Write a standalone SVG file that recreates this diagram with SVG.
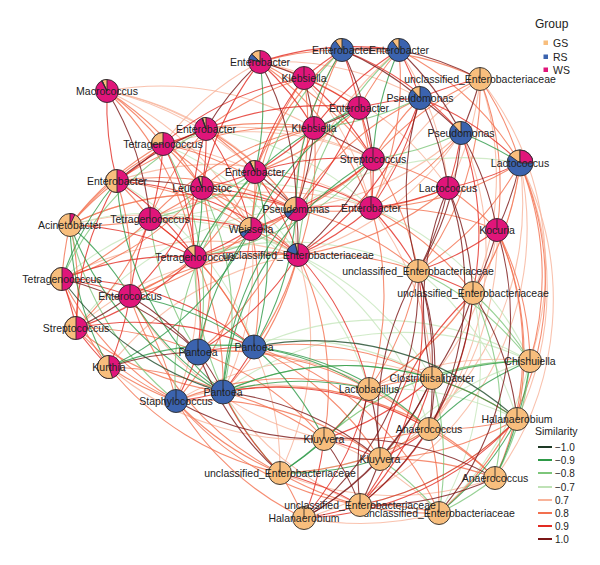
<svg xmlns="http://www.w3.org/2000/svg" width="600" height="565" viewBox="0 0 600 565">
<style>
.e path{fill:none;stroke-width:1.1;stroke-opacity:.8}
.r10{stroke:#7B1616}.r9{stroke:#E22B22}.r8{stroke:#F2704F}.r7{stroke:#F8B39A}
.g10{stroke:#1E4A2A}.g9{stroke:#2E9A48}.g8{stroke:#7DC67A}.g7{stroke:#C5E6BC}
.nd circle,.nd path{stroke:#2b2b2b;stroke-width:.9}
.gs{fill:#F8BE7D}.rs{fill:#3B63AE}.ws{fill:#E0157A}
.nd text{font-family:"Liberation Sans",Arial,sans-serif;font-size:10.5px;fill:#222;text-anchor:middle}
.lg text{font-family:"Liberation Sans",Arial,sans-serif;fill:#222}
.lg line{stroke-width:2}
</style>
<rect width="600" height="565" fill="#fff"/>
<g id="edges" class="e">
<g class="r7">
<path d="M107 91A300 300 0 0 1 206 129"/><path d="M107 91A300 300 0 0 1 255 172"/><path d="M107 91A300 300 0 0 1 251 229"/><path d="M260 62A300 300 0 0 0 163 144"/><path d="M260 62A300 300 0 0 1 420 98"/><path d="M399 50A300 300 0 0 1 448 188"/><path d="M304 78A300 300 0 0 1 371 208"/><path d="M480 79A300 300 0 0 1 448 188"/><path d="M480 79A300 300 0 0 1 473 293"/><path d="M461 133A300 300 0 0 1 296 209"/><path d="M461 133A300 300 0 0 1 429 429"/><path d="M163 144A300 300 0 0 1 255 172"/><path d="M520 163A300 300 0 0 1 517 419"/><path d="M520 163A300 300 0 0 1 495 478"/><path d="M251 229A300 300 0 0 1 223 392"/><path d="M371 208A300 300 0 0 1 432 378"/><path d="M195 257A300 300 0 0 1 176 401"/><path d="M298 255A300 300 0 0 1 280 473"/><path d="M130 296A300 300 0 0 0 324 439"/><path d="M369 389A300 300 0 0 1 530 361"/><path d="M324 439A300 300 0 0 1 439 513"/><path d="M439 513A300 300 0 0 1 304 518"/><path d="M107 91A300 300 0 0 1 296 209"/><path d="M107 91A300 300 0 0 1 314 128"/><path d="M70 225A300 300 0 0 1 296 209"/><path d="M70 225A300 300 0 0 1 298 255"/><path d="M62 279A300 300 0 0 1 298 255"/><path d="M76 328A300 300 0 0 1 298 255"/><path d="M109 367A300 300 0 0 1 298 255"/><path d="M117 181A300 300 0 0 1 371 208"/><path d="M150 219A300 300 0 0 1 371 208"/><path d="M163 144A300 300 0 0 1 373 159"/><path d="M206 129A300 300 0 0 1 373 159"/><path d="M260 62A300 300 0 0 1 448 188"/><path d="M399 50A300 300 0 0 0 296 209"/><path d="M342 50A300 300 0 0 0 298 255"/><path d="M480 79A300 300 0 0 0 371 208"/><path d="M461 133A300 300 0 0 1 298 255"/><path d="M520 163A300 300 0 0 1 369 389"/><path d="M520 163A300 300 0 0 1 380 459"/><path d="M497 230A300 300 0 0 1 432 378"/><path d="M497 230A300 300 0 0 1 429 429"/><path d="M176 401A300 300 0 0 1 429 429"/><path d="M176 401A300 300 0 0 1 432 378"/><path d="M198 352A300 300 0 0 1 429 429"/><path d="M109 367A300 300 0 0 0 324 439"/><path d="M254 347A300 300 0 0 1 280 473"/><path d="M223 392A300 300 0 0 0 360 505"/><path d="M280 473A300 300 0 0 0 495 478"/><path d="M520 163A300 300 0 0 1 304 518"/><path d="M480 79A300 300 0 0 1 530 361"/>
</g>
<g class="g7">
<path d="M520 163A300 300 0 0 0 296 209"/><path d="M530 361A300 300 0 0 1 439 513"/><path d="M70 225A300 300 0 0 1 251 229"/><path d="M62 279A300 300 0 0 1 296 209"/><path d="M76 328A300 300 0 0 1 296 209"/><path d="M150 219A300 300 0 0 1 298 255"/><path d="M163 144A300 300 0 0 1 298 255"/><path d="M117 181A300 300 0 0 1 254 347"/><path d="M195 257A300 300 0 0 1 418 271"/><path d="M298 255A300 300 0 0 1 432 378"/><path d="M251 229A300 300 0 0 1 369 389"/><path d="M254 347A300 300 0 0 1 530 361"/><path d="M198 352A300 300 0 0 1 432 378"/><path d="M369 389A300 300 0 0 1 517 419"/><path d="M324 439A300 300 0 0 1 530 361"/><path d="M380 459A300 300 0 0 1 530 361"/><path d="M298 255A300 300 0 0 1 429 429"/><path d="M371 208A300 300 0 0 1 530 361"/><path d="M473 293A300 300 0 0 1 439 513"/><path d="M418 271A300 300 0 0 1 517 419"/><path d="M202 188A300 300 0 0 1 371 208"/><path d="M206 129A300 300 0 0 1 371 208"/><path d="M223 392A300 300 0 0 1 530 361"/><path d="M360 505A300 300 0 0 0 517 419"/><path d="M280 473A300 300 0 0 0 429 429"/>
</g>
<g class="r8">
<path d="M107 91A300 300 0 0 1 163 144"/><path d="M107 91A300 300 0 0 1 202 188"/><path d="M107 91A300 300 0 0 1 195 257"/><path d="M260 62A300 300 0 0 1 342 50"/><path d="M260 62A300 300 0 0 1 359 108"/><path d="M260 62A300 300 0 0 1 373 159"/><path d="M260 62A300 300 0 0 1 371 208"/><path d="M342 50A300 300 0 0 1 480 79"/><path d="M342 50A300 300 0 0 0 314 128"/><path d="M342 50A300 300 0 0 0 255 172"/><path d="M399 50A300 300 0 0 0 359 108"/><path d="M399 50A300 300 0 0 1 371 208"/><path d="M399 50A300 300 0 0 1 520 163"/><path d="M304 78A300 300 0 0 0 206 129"/><path d="M304 78A300 300 0 0 1 296 209"/><path d="M304 78A300 300 0 0 0 251 229"/><path d="M480 79A300 300 0 0 1 520 163"/><path d="M480 79A300 300 0 0 1 497 230"/><path d="M480 79A300 300 0 0 1 418 271"/><path d="M480 79A300 300 0 0 0 373 159"/><path d="M420 98A300 300 0 0 0 373 159"/><path d="M420 98A300 300 0 0 0 296 209"/><path d="M359 108A300 300 0 0 1 255 172"/><path d="M359 108A300 300 0 0 1 371 208"/><path d="M314 128A300 300 0 0 0 202 188"/><path d="M314 128A300 300 0 0 0 206 129"/><path d="M314 128A300 300 0 0 1 298 255"/><path d="M314 128A300 300 0 0 0 150 219"/><path d="M314 128A300 300 0 0 0 117 181"/><path d="M206 129A300 300 0 0 1 255 172"/><path d="M206 129A300 300 0 0 0 150 219"/><path d="M206 129A300 300 0 0 1 296 209"/><path d="M206 129A300 300 0 0 0 70 225"/><path d="M461 133A300 300 0 0 1 371 208"/><path d="M163 144A300 300 0 0 1 202 188"/><path d="M163 144A300 300 0 0 1 251 229"/><path d="M163 144A300 300 0 0 1 296 209"/><path d="M163 144A300 300 0 0 0 70 225"/><path d="M373 159A300 300 0 0 1 448 188"/><path d="M373 159A300 300 0 0 1 251 229"/><path d="M373 159A300 300 0 0 1 418 271"/><path d="M520 163A300 300 0 0 1 418 271"/><path d="M520 163A300 300 0 0 1 473 293"/><path d="M520 163A300 300 0 0 1 530 361"/><path d="M520 163A300 300 0 0 1 371 208"/><path d="M117 181A300 300 0 0 1 150 219"/><path d="M117 181A300 300 0 0 0 70 225"/><path d="M117 181A300 300 0 0 1 130 296"/><path d="M117 181A300 300 0 0 1 251 229"/><path d="M117 181A300 300 0 0 1 296 209"/><path d="M255 172A300 300 0 0 1 251 229"/><path d="M255 172A300 300 0 0 1 195 257"/><path d="M202 188A300 300 0 0 1 150 219"/><path d="M202 188A300 300 0 0 1 251 229"/><path d="M202 188A300 300 0 0 1 62 279"/><path d="M202 188A300 300 0 0 1 198 352"/><path d="M202 188A300 300 0 0 1 298 255"/><path d="M448 188A300 300 0 0 1 497 230"/><path d="M448 188A300 300 0 0 1 296 209"/><path d="M448 188A300 300 0 0 1 298 255"/><path d="M150 219A300 300 0 0 1 70 225"/><path d="M150 219A300 300 0 0 1 62 279"/><path d="M150 219A300 300 0 0 1 76 328"/><path d="M150 219A300 300 0 0 1 254 347"/><path d="M296 209A300 300 0 0 1 195 257"/><path d="M296 209A300 300 0 0 1 418 271"/><path d="M296 209A300 300 0 0 1 198 352"/><path d="M296 209A300 300 0 0 0 70 225"/><path d="M251 229A300 300 0 0 1 298 255"/><path d="M251 229A300 300 0 0 1 254 347"/><path d="M251 229A300 300 0 0 1 176 401"/><path d="M251 229A300 300 0 0 1 130 296"/><path d="M371 208A300 300 0 0 1 473 293"/><path d="M371 208A300 300 0 0 1 369 389"/><path d="M371 208A300 300 0 0 1 497 230"/><path d="M497 230A300 300 0 0 1 530 361"/><path d="M497 230A300 300 0 0 1 517 419"/><path d="M497 230A300 300 0 0 1 495 478"/><path d="M70 225A300 300 0 0 0 62 279"/><path d="M70 225A300 300 0 0 1 76 328"/><path d="M195 257A300 300 0 0 1 130 296"/><path d="M195 257A300 300 0 0 1 254 347"/><path d="M195 257A300 300 0 0 1 223 392"/><path d="M298 255A300 300 0 0 1 418 271"/><path d="M298 255A300 300 0 0 1 254 347"/><path d="M298 255A300 300 0 0 1 223 392"/><path d="M298 255A300 300 0 0 1 324 439"/><path d="M298 255A300 300 0 0 0 130 296"/><path d="M418 271A300 300 0 0 1 369 389"/><path d="M62 279A300 300 0 0 0 109 367"/><path d="M62 279A300 300 0 0 0 176 401"/><path d="M473 293A300 300 0 0 1 369 389"/><path d="M130 296A300 300 0 0 1 176 401"/><path d="M130 296A300 300 0 0 0 280 473"/><path d="M76 328A300 300 0 0 1 198 352"/><path d="M76 328A300 300 0 0 0 223 392"/><path d="M76 328A300 300 0 0 0 176 401"/><path d="M109 367A300 300 0 0 1 223 392"/><path d="M109 367A300 300 0 0 0 176 401"/><path d="M109 367A300 300 0 0 0 280 473"/><path d="M198 352A300 300 0 0 1 324 439"/><path d="M198 352A300 300 0 0 1 369 389"/><path d="M254 347A300 300 0 0 1 380 459"/><path d="M254 347A300 300 0 0 1 432 378"/><path d="M254 347A300 300 0 0 1 439 513"/><path d="M223 392A300 300 0 0 1 324 439"/><path d="M223 392A300 300 0 0 1 495 478"/><path d="M176 401A300 300 0 0 0 280 473"/><path d="M176 401A300 300 0 0 1 380 459"/><path d="M176 401A300 300 0 0 0 360 505"/><path d="M176 401A300 300 0 0 0 304 518"/><path d="M176 401A300 300 0 0 1 369 389"/><path d="M369 389A300 300 0 0 1 432 378"/><path d="M369 389A300 300 0 0 1 429 429"/><path d="M432 378A300 300 0 0 1 517 419"/><path d="M517 419A300 300 0 0 1 429 429"/><path d="M517 419A300 300 0 0 1 380 459"/><path d="M429 429A300 300 0 0 1 324 439"/><path d="M429 429A300 300 0 0 1 495 478"/><path d="M429 429A300 300 0 0 1 439 513"/><path d="M429 429A300 300 0 0 1 280 473"/><path d="M380 459A300 300 0 0 1 495 478"/><path d="M280 473A300 300 0 0 1 304 518"/><path d="M280 473A300 300 0 0 0 439 513"/><path d="M360 505A300 300 0 0 1 439 513"/><path d="M520 163A300 300 0 0 1 439 513"/>
</g>
<g class="g8">
<path d="M342 50A300 300 0 0 0 251 229"/><path d="M399 50A300 300 0 0 0 298 255"/><path d="M420 98A300 300 0 0 1 314 128"/><path d="M206 129A300 300 0 0 0 62 279"/><path d="M461 133A300 300 0 0 1 373 159"/><path d="M255 172A300 300 0 0 1 150 219"/><path d="M255 172A300 300 0 0 0 176 401"/><path d="M150 219A300 300 0 0 0 198 352"/><path d="M70 225A300 300 0 0 0 176 401"/><path d="M195 257A300 300 0 0 0 280 473"/><path d="M195 257A300 300 0 0 0 373 159"/><path d="M473 293A300 300 0 0 1 530 361"/><path d="M473 293A300 300 0 0 1 495 478"/><path d="M530 361A300 300 0 0 1 495 478"/><path d="M530 361A300 300 0 0 0 324 439"/><path d="M223 392A300 300 0 0 1 432 378"/><path d="M432 378A300 300 0 0 1 439 513"/><path d="M380 459A300 300 0 0 1 439 513"/><path d="M495 478A300 300 0 0 1 439 513"/><path d="M418 271A300 300 0 0 1 530 361"/><path d="M163 144A300 300 0 0 1 198 352"/><path d="M202 188A300 300 0 0 1 223 392"/>
</g>
<g class="r9">
<path d="M107 91A300 300 0 0 0 117 181"/><path d="M260 62A300 300 0 0 1 399 50"/><path d="M260 62A300 300 0 0 1 314 128"/><path d="M260 62A300 300 0 0 0 202 188"/><path d="M342 50A300 300 0 0 0 304 78"/><path d="M342 50A300 300 0 0 1 359 108"/><path d="M342 50A300 300 0 0 1 461 133"/><path d="M399 50A300 300 0 0 1 420 98"/><path d="M399 50A300 300 0 0 0 314 128"/><path d="M304 78A300 300 0 0 1 359 108"/><path d="M304 78A300 300 0 0 0 255 172"/><path d="M304 78A300 300 0 0 1 373 159"/><path d="M304 78A300 300 0 0 0 163 144"/><path d="M480 79A300 300 0 0 0 420 98"/><path d="M420 98A300 300 0 0 0 359 108"/><path d="M420 98A300 300 0 0 1 371 208"/><path d="M420 98A300 300 0 0 1 298 255"/><path d="M420 98A300 300 0 0 1 520 163"/><path d="M359 108A300 300 0 0 1 373 159"/><path d="M359 108A300 300 0 0 1 296 209"/><path d="M359 108A300 300 0 0 0 206 129"/><path d="M314 128A300 300 0 0 1 255 172"/><path d="M314 128A300 300 0 0 1 251 229"/><path d="M206 129A300 300 0 0 1 163 144"/><path d="M206 129A300 300 0 0 1 202 188"/><path d="M206 129A300 300 0 0 1 251 229"/><path d="M206 129A300 300 0 0 0 195 257"/><path d="M461 133A300 300 0 0 1 448 188"/><path d="M461 133A300 300 0 0 1 473 293"/><path d="M163 144A300 300 0 0 1 117 181"/><path d="M163 144A300 300 0 0 1 150 219"/><path d="M163 144A300 300 0 0 1 195 257"/><path d="M373 159A300 300 0 0 1 371 208"/><path d="M373 159A300 300 0 0 1 296 209"/><path d="M373 159A300 300 0 0 0 255 172"/><path d="M520 163A300 300 0 0 1 448 188"/><path d="M117 181A300 300 0 0 1 195 257"/><path d="M117 181A300 300 0 0 0 76 328"/><path d="M117 181A300 300 0 0 1 298 255"/><path d="M255 172A300 300 0 0 1 202 188"/><path d="M255 172A300 300 0 0 1 371 208"/><path d="M255 172A300 300 0 0 1 298 255"/><path d="M202 188A300 300 0 0 1 296 209"/><path d="M202 188A300 300 0 0 1 130 296"/><path d="M448 188A300 300 0 0 1 371 208"/><path d="M150 219A300 300 0 0 1 251 229"/><path d="M150 219A300 300 0 0 1 195 257"/><path d="M150 219A300 300 0 0 0 130 296"/><path d="M296 209A300 300 0 0 1 251 229"/><path d="M296 209A300 300 0 0 1 371 208"/><path d="M251 229A300 300 0 0 1 195 257"/><path d="M371 208A300 300 0 0 1 298 255"/><path d="M371 208A300 300 0 0 1 418 271"/><path d="M497 230A300 300 0 0 1 418 271"/><path d="M70 225A300 300 0 0 1 195 257"/><path d="M195 257A300 300 0 0 1 298 255"/><path d="M195 257A300 300 0 0 0 62 279"/><path d="M195 257A300 300 0 0 1 76 328"/><path d="M195 257A300 300 0 0 1 198 352"/><path d="M298 255A300 300 0 0 1 198 352"/><path d="M298 255A300 300 0 0 1 369 389"/><path d="M418 271A300 300 0 0 1 473 293"/><path d="M418 271A300 300 0 0 1 360 505"/><path d="M62 279A300 300 0 0 1 130 296"/><path d="M62 279A300 300 0 0 1 76 328"/><path d="M62 279A300 300 0 0 1 254 347"/><path d="M473 293A300 300 0 0 1 429 429"/><path d="M473 293A300 300 0 0 0 380 459"/><path d="M130 296A300 300 0 0 1 109 367"/><path d="M76 328A300 300 0 0 0 109 367"/><path d="M76 328A300 300 0 0 1 254 347"/><path d="M198 352A300 300 0 0 1 254 347"/><path d="M198 352A300 300 0 0 1 176 401"/><path d="M254 347A300 300 0 0 1 223 392"/><path d="M223 392A300 300 0 0 1 176 401"/><path d="M223 392A300 300 0 0 1 429 429"/><path d="M223 392A300 300 0 0 0 280 473"/><path d="M369 389A300 300 0 0 1 324 439"/><path d="M369 389A300 300 0 0 1 304 518"/><path d="M432 378A300 300 0 0 1 324 439"/><path d="M432 378A300 300 0 0 1 360 505"/><path d="M517 419A300 300 0 0 1 360 505"/><path d="M517 419A300 300 0 0 1 304 518"/><path d="M429 429A300 300 0 0 1 380 459"/><path d="M429 429A300 300 0 0 1 360 505"/><path d="M324 439A300 300 0 0 1 380 459"/><path d="M324 439A300 300 0 0 1 304 518"/><path d="M280 473A300 300 0 0 1 360 505"/><path d="M360 505A300 300 0 0 1 304 518"/>
</g>
<g class="g9">
<path d="M260 62A300 300 0 0 1 255 172"/><path d="M342 50A300 300 0 0 0 296 209"/><path d="M399 50A300 300 0 0 0 373 159"/><path d="M359 108A300 300 0 0 0 251 229"/><path d="M359 108A300 300 0 0 0 195 257"/><path d="M461 133A300 300 0 0 1 520 163"/><path d="M373 159A300 300 0 0 0 223 392"/><path d="M117 181A300 300 0 0 0 62 279"/><path d="M255 172A300 300 0 0 1 254 347"/><path d="M202 188A300 300 0 0 1 195 257"/><path d="M296 209A300 300 0 0 1 254 347"/><path d="M296 209A300 300 0 0 0 223 392"/><path d="M251 229A300 300 0 0 0 198 352"/><path d="M70 225A300 300 0 0 1 130 296"/><path d="M70 225A300 300 0 0 0 109 367"/><path d="M70 225A300 300 0 0 0 223 392"/><path d="M130 296A300 300 0 0 1 254 347"/><path d="M130 296A300 300 0 0 0 223 392"/><path d="M254 347A300 300 0 0 1 369 389"/><path d="M254 347A300 300 0 0 1 324 439"/><path d="M254 347A300 300 0 0 1 429 429"/><path d="M530 361A300 300 0 0 0 432 378"/><path d="M530 361A300 300 0 0 1 517 419"/><path d="M530 361A300 300 0 0 0 429 429"/><path d="M223 392A300 300 0 0 1 369 389"/><path d="M223 392A300 300 0 0 1 517 419"/><path d="M369 389A300 300 0 0 1 280 473"/><path d="M517 419A300 300 0 0 1 495 478"/><path d="M517 419A300 300 0 0 1 439 513"/><path d="M324 439A300 300 0 0 1 280 473"/><path d="M380 459A300 300 0 0 1 280 473"/><path d="M109 367A300 300 0 0 1 254 347"/><path d="M117 181A300 300 0 0 0 223 392"/><path d="M109 367A300 300 0 0 0 251 229"/>
</g>
<g class="r10">
<path d="M107 91A300 300 0 0 1 150 219"/><path d="M260 62A300 300 0 0 1 304 78"/><path d="M260 62A300 300 0 0 0 206 129"/><path d="M260 62A300 300 0 0 1 296 209"/><path d="M342 50A300 300 0 0 1 399 50"/><path d="M342 50A300 300 0 0 1 420 98"/><path d="M342 50A300 300 0 0 1 373 159"/><path d="M399 50A300 300 0 0 1 480 79"/><path d="M399 50A300 300 0 0 1 461 133"/><path d="M304 78A300 300 0 0 1 314 128"/><path d="M480 79A300 300 0 0 1 461 133"/><path d="M420 98A300 300 0 0 1 461 133"/><path d="M420 98A300 300 0 0 1 448 188"/><path d="M420 98A300 300 0 0 0 418 271"/><path d="M359 108A300 300 0 0 1 314 128"/><path d="M314 128A300 300 0 0 1 373 159"/><path d="M314 128A300 300 0 0 1 296 209"/><path d="M206 129A300 300 0 0 0 117 181"/><path d="M461 133A300 300 0 0 1 497 230"/><path d="M461 133A300 300 0 0 1 418 271"/><path d="M373 159A300 300 0 0 1 298 255"/><path d="M520 163A300 300 0 0 1 497 230"/><path d="M117 181A300 300 0 0 1 202 188"/><path d="M255 172A300 300 0 0 1 296 209"/><path d="M448 188A300 300 0 0 1 418 271"/><path d="M448 188A300 300 0 0 1 473 293"/><path d="M448 188A300 300 0 0 0 432 378"/><path d="M448 188A300 300 0 0 1 429 429"/><path d="M296 209A300 300 0 0 1 298 255"/><path d="M497 230A300 300 0 0 1 473 293"/><path d="M497 230A300 300 0 0 1 439 513"/><path d="M418 271A300 300 0 0 1 432 378"/><path d="M418 271A300 300 0 0 1 429 429"/><path d="M418 271A300 300 0 0 0 380 459"/><path d="M418 271A300 300 0 0 1 304 518"/><path d="M62 279A300 300 0 0 1 198 352"/><path d="M473 293A300 300 0 0 1 432 378"/><path d="M473 293A300 300 0 0 1 517 419"/><path d="M473 293A300 300 0 0 1 360 505"/><path d="M130 296A300 300 0 0 1 76 328"/><path d="M130 296A300 300 0 0 1 198 352"/><path d="M109 367A300 300 0 0 1 198 352"/><path d="M198 352A300 300 0 0 1 223 392"/><path d="M198 352A300 300 0 0 0 280 473"/><path d="M223 392A300 300 0 0 1 380 459"/><path d="M176 401A300 300 0 0 0 324 439"/><path d="M369 389A300 300 0 0 1 380 459"/><path d="M369 389A300 300 0 0 0 360 505"/><path d="M432 378A300 300 0 0 1 429 429"/><path d="M432 378A300 300 0 0 1 380 459"/><path d="M432 378A300 300 0 0 1 304 518"/><path d="M324 439A300 300 0 0 1 360 505"/><path d="M324 439A300 300 0 0 1 495 478"/><path d="M380 459A300 300 0 0 1 360 505"/><path d="M380 459A300 300 0 0 1 304 518"/><path d="M495 478A300 300 0 0 1 360 505"/>
</g>
<g class="g10">
<path d="M62 279A300 300 0 0 0 223 392"/><path d="M254 347A300 300 0 0 1 517 419"/>
</g>
</g>
<g id="nodes" class="nd">
<g id="n-macrococcus" transform="translate(107,91)"><circle r="11.5" class="ws"/><path class="gs" d="M0 0V-11.5A11.5 11.5 0 0 0 -4.9 -10.41Z"/><path class="rs" d="M0 0L-4.9 -10.41A11.5 11.5 0 0 0 -5.54 -10.08Z"/><text y="4">Macrococcus</text></g>
<g id="n-enterobacter-1" transform="translate(260,62)"><circle r="11.5" class="ws"/><path class="gs" d="M0 0V-11.5A11.5 11.5 0 0 0 -8.38 -7.87Z"/><path class="rs" d="M0 0L-8.38 -7.87A11.5 11.5 0 0 0 -11.13 -2.86Z"/><text y="4">Enterobacter</text></g>
<g id="n-enterobacter-2" transform="translate(342,50)"><circle r="11.5" class="rs"/><path class="gs" d="M0 0V-11.5A11.5 11.5 0 0 0 -6.76 -9.3Z"/><text y="4">Enterobacter</text></g>
<g id="n-enterobacter-3" transform="translate(399,50)"><circle r="11.5" class="rs"/><path class="gs" d="M0 0V-11.5A11.5 11.5 0 0 0 -6.76 -9.3Z"/><text y="4">Enterobacter</text></g>
<g id="n-klebsiella-1" transform="translate(304,78)"><circle r="11.5" class="ws"/><path d="M0 0V-11.5"/><text y="4">Klebsiella</text></g>
<g id="n-unclassified-1" transform="translate(480,79)"><circle r="11.5" class="gs"/><path d="M0 0V-11.5"/><text y="4">unclassified_Enterobacteriaceae</text></g>
<g id="n-pseudomonas-1" transform="translate(420,98)"><circle r="11.5" class="rs"/><path class="gs" d="M0 0V-11.5A11.5 11.5 0 0 0 -7.87 -8.38Z"/><text y="4">Pseudomonas</text></g>
<g id="n-enterobacter-4" transform="translate(359,108)"><circle r="11.5" class="ws"/><path d="M0 0V-11.5"/><text y="4">Enterobacter</text></g>
<g id="n-klebsiella-2" transform="translate(314,128)"><circle r="11.5" class="ws"/><path d="M0 0V-11.5"/><text y="4">Klebsiella</text></g>
<g id="n-enterobacter-5" transform="translate(206,129)"><circle r="11.5" class="ws"/><path class="gs" d="M0 0V-11.5A11.5 11.5 0 0 0 -3.55 -10.94Z"/><path class="rs" d="M0 0L-3.55 -10.94A11.5 11.5 0 0 0 -4.23 -10.69Z"/><text y="4">Enterobacter</text></g>
<g id="n-pseudomonas-2" transform="translate(461,133)"><circle r="11.5" class="rs"/><path class="gs" d="M0 0V-11.5A11.5 11.5 0 0 0 -7.87 -8.38Z"/><text y="4">Pseudomonas</text></g>
<g id="n-tetragenococcus-1" transform="translate(163,144)"><circle r="11.5" class="ws"/><path class="gs" d="M0 0V-11.5A11.5 11.5 0 0 0 -11.5 0Z"/><text y="4">Tetragenococcus</text></g>
<g id="n-streptococcus-1" transform="translate(373,159)"><circle r="11.5" class="ws"/><path d="M0 0V-11.5"/><text y="4">Streptococcus</text></g>
<g id="n-lactococcus-1" transform="translate(520,163)"><circle r="13" class="rs"/><path class="gs" d="M0 0V-13A13 13 0 0 0 -10.52 -7.64Z"/><path class="ws" d="M0 0H13A13 13 0 0 0 0 -13Z"/><text y="4">Lactococcus</text></g>
<g id="n-enterobacter-6" transform="translate(117,181)"><circle r="11.5" class="ws"/><path class="gs" d="M0 0V-11.5A11.5 11.5 0 0 0 0 11.5Z"/><text y="4">Enterobacter</text></g>
<g id="n-enterobacter-7" transform="translate(255,172)"><circle r="11.5" class="ws"/><path class="gs" d="M0 0V-11.5A11.5 11.5 0 0 0 -4.9 -10.41Z"/><path class="rs" d="M0 0L-4.9 -10.41A11.5 11.5 0 0 0 -5.54 -10.08Z"/><text y="4">Enterobacter</text></g>
<g id="n-leuconostoc" transform="translate(202,188)"><circle r="11.5" class="ws"/><path class="gs" d="M0 0V-11.5A11.5 11.5 0 0 0 -3.55 -10.94Z"/><path class="rs" d="M0 0L-3.55 -10.94A11.5 11.5 0 0 0 -4.23 -10.69Z"/><text y="4">Leuconostoc</text></g>
<g id="n-lactococcus-2" transform="translate(448,188)"><circle r="11.5" class="ws"/><path d="M0 0V-11.5"/><text y="4">Lactococcus</text></g>
<g id="n-tetragenococcus-2" transform="translate(150,219)"><circle r="11.5" class="ws"/><path d="M0 0V-11.5"/><text y="4">Tetragenococcus</text></g>
<g id="n-weissella" transform="translate(251,229)"><circle r="11.5" class="ws"/><path class="gs" d="M0 0V-11.5A11.5 11.5 0 0 0 -10.94 3.55Z"/><path class="rs" d="M0 0L-10.94 3.55A11.5 11.5 0 0 0 -7.87 8.38Z"/><text y="4">Weissella</text></g>
<g id="n-pseudomonas-3" transform="translate(296,209)"><circle r="12" class="ws"/><path class="gs" d="M0 0V-12A12 12 0 0 0 -11.41 3.71Z"/><path class="rs" d="M0 0L-11.41 3.71A12 12 0 0 0 -8.22 8.75Z"/><text y="4">Pseudomonas</text></g>
<g id="n-enterobacter-8" transform="translate(371,208)"><circle r="11.5" class="ws"/><path d="M0 0V-11.5"/><text y="4">Enterobacter</text></g>
<g id="n-kocuria" transform="translate(497,230)"><circle r="11.5" class="ws"/><path d="M0 0V-11.5"/><text y="4">Kocuria</text></g>
<g id="n-acinetobacter" transform="translate(70,225)"><circle r="11.5" class="gs"/><path class="ws" d="M0 0L4.9 -10.41A11.5 11.5 0 0 0 0 -11.5Z"/><text y="4">Acinetobacter</text></g>
<g id="n-tetragenococcus-3" transform="translate(195,257)"><circle r="11.5" class="ws"/><path class="gs" d="M0 0V-11.5A11.5 11.5 0 0 0 -7.87 -8.38Z"/><text y="4">Tetragenococcus</text></g>
<g id="n-unclassified-2" transform="translate(298,255)"><circle r="11.5" class="ws"/><path class="gs" d="M0 0V-11.5A11.5 11.5 0 0 0 -2.86 -11.14Z"/><path class="rs" d="M0 0L-2.86 -11.14A11.5 11.5 0 0 0 -10.94 -3.55Z"/><text y="4">unclassified_Enterobacteriaceae</text></g>
<g id="n-unclassified-3" transform="translate(418,271)"><circle r="11.5" class="gs"/><path d="M0 0V-11.5"/><text y="4">unclassified_Enterobacteriaceae</text></g>
<g id="n-tetragenococcus-4" transform="translate(62,279)"><circle r="11.5" class="ws"/><path class="gs" d="M0 0V-11.5A11.5 11.5 0 0 0 0 11.5Z"/><text y="4">Tetragenococcus</text></g>
<g id="n-unclassified-4" transform="translate(473,293)"><circle r="11.5" class="gs"/><path d="M0 0V-11.5"/><text y="4">unclassified_Enterobacteriaceae</text></g>
<g id="n-enterococcus" transform="translate(130,296)"><circle r="11.5" class="ws"/><path d="M0 0V-11.5"/><text y="4">Enterococcus</text></g>
<g id="n-streptococcus-2" transform="translate(76,328)"><circle r="11.5" class="ws"/><path class="gs" d="M0 0V-11.5A11.5 11.5 0 0 0 0 11.5Z"/><text y="4">Streptococcus</text></g>
<g id="n-pantoea-1" transform="translate(198,352)"><circle r="13" class="rs"/><path d="M0 0V-13"/><text y="4">Pantoea</text></g>
<g id="n-pantoea-2" transform="translate(254,347)"><circle r="12" class="rs"/><path d="M0 0V-12"/><text y="4">Pantoea</text></g>
<g id="n-kurthia" transform="translate(109,367)"><circle r="11.5" class="ws"/><path class="gs" d="M0 0V-11.5A11.5 11.5 0 1 0 3.55 10.94Z"/><text y="4">Kurthia</text></g>
<g id="n-chishuiella" transform="translate(530,361)"><circle r="11.5" class="gs"/><path d="M0 0V-11.5"/><text y="4">Chishuiella</text></g>
<g id="n-pantoea-3" transform="translate(223,392)"><circle r="12" class="rs"/><path d="M0 0V-12"/><text y="4">Pantoea</text></g>
<g id="n-staphylococcus" transform="translate(176,401)"><circle r="11.5" class="rs"/><path d="M0 0V-11.5"/><text y="4">Staphylococcus</text></g>
<g id="n-lactobacillus" transform="translate(369,389)"><circle r="11.5" class="gs"/><path d="M0 0V-11.5"/><text y="4">Lactobacillus</text></g>
<g id="n-clostridiisalibacter" transform="translate(432,378)"><circle r="11.5" class="gs"/><path d="M0 0V-11.5"/><text y="4">Clostridiisalibacter</text></g>
<g id="n-halanaerobium-1" transform="translate(517,419)"><circle r="11.5" class="gs"/><path d="M0 0V-11.5"/><text y="4">Halanaerobium</text></g>
<g id="n-anaerococcus-1" transform="translate(429,429)"><circle r="11.5" class="gs"/><path d="M0 0V-11.5"/><text y="4">Anaerococcus</text></g>
<g id="n-kluyvera-1" transform="translate(324,439)"><circle r="11.5" class="gs"/><path d="M0 0V-11.5"/><text y="4">Kluyvera</text></g>
<g id="n-kluyvera-2" transform="translate(380,459)"><circle r="11.5" class="gs"/><path d="M0 0V-11.5"/><text y="4">Kluyvera</text></g>
<g id="n-unclassified-5" transform="translate(280,473)"><circle r="11.5" class="gs"/><path d="M0 0V-11.5"/><text y="4">unclassified_Enterobacteriaceae</text></g>
<g id="n-anaerococcus-2" transform="translate(495,478)"><circle r="11.5" class="gs"/><path d="M0 0V-11.5"/><text y="4">Anaerococcus</text></g>
<g id="n-halanaerobium-2" transform="translate(304,518)"><circle r="11.5" class="gs"/><path d="M0 0V-11.5"/><text y="4">Halanaerobium</text></g>
<g id="n-unclassified-7" transform="translate(439,513)"><circle r="11.5" class="gs"/><path d="M0 0V-11.5"/><text y="4">unclassified_Enterobacteriaceae</text></g>
<g id="n-unclassified-6" transform="translate(360,505)"><circle r="11.5" class="gs"/><path d="M0 0V-11.5"/><text y="4">unclassified_Enterobacteriaceae</text></g>
</g>
<g id="legend-group" class="lg">
<text x="535" y="28" font-size="12">Group</text>
<rect x="543.5" y="40.5" width="4.5" height="4.5" class="gs"/><text x="553" y="46.5" font-size="10.5">GS</text>
<rect x="543.5" y="54.5" width="4.5" height="4.5" class="rs"/><text x="553" y="60.5" font-size="10.5">RS</text>
<rect x="543.5" y="67.5" width="4.5" height="4.5" class="ws"/><text x="553" y="73.5" font-size="10.5">WS</text>
</g>
<g id="legend-similarity" class="lg" font-size="10">
<text x="535" y="435" font-size="10.5">Similarity</text>
<line x1="538" y1="447" x2="552" y2="447" stroke="#1E3A26"/><text x="555" y="450.5">−1.0</text>
<line x1="538" y1="460" x2="552" y2="460" stroke="#2E9A48"/><text x="555" y="463.5">−0.9</text>
<line x1="538" y1="473" x2="552" y2="473" stroke="#7DC67A"/><text x="555" y="476.5">−0.8</text>
<line x1="538" y1="487" x2="552" y2="487" stroke="#BFE2B6"/><text x="555" y="490.5">−0.7</text>
<line x1="538" y1="500" x2="552" y2="500" stroke="#F8B39A"/><text x="555" y="503.5">0.7</text>
<line x1="538" y1="513" x2="552" y2="513" stroke="#F2704F"/><text x="555" y="516.5">0.8</text>
<line x1="538" y1="526" x2="552" y2="526" stroke="#E22B22"/><text x="555" y="529.5">0.9</text>
<line x1="538" y1="539" x2="552" y2="539" stroke="#7B1616"/><text x="555" y="542.5">1.0</text>
</g>
</svg>
